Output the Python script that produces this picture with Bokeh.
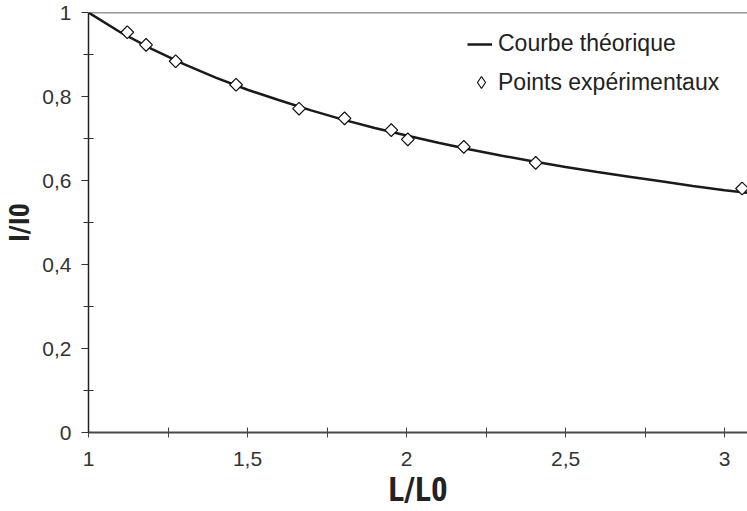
import numpy as np
from bokeh.plotting import figure
from bokeh.models import (FixedTicker, CustomJSTickFormatter, Span, Legend,
                          LegendItem, Range1d)
from bokeh.embed import file_html
from bokeh.resources import INLINE

# Theoretical curve
curve_x = [1.0, 1.1, 1.2, 1.3, 1.4, 1.5, 1.6, 1.7, 1.8, 1.9, 2.0, 2.1, 2.2,
           2.3, 2.4, 2.5, 2.6, 2.7, 2.8, 2.9, 3.0, 3.1]
curve_y = [1.000, 0.953, 0.913, 0.877, 0.845, 0.816, 0.791, 0.767, 0.745,
           0.725, 0.707, 0.690, 0.674, 0.659, 0.645, 0.632, 0.620, 0.609,
           0.598, 0.587, 0.577, 0.568]

# Experimental points
pts_x = [1.122, 1.181, 1.274, 1.464, 1.662, 1.805, 1.952, 2.004, 2.180,
         2.406, 3.055]
pts_y = [0.953, 0.923, 0.884, 0.828, 0.771, 0.748, 0.720, 0.698, 0.680,
         0.642, 0.581]

x_major = [1, 1.5, 2, 2.5, 3]
x_minor = [1.25, 1.75, 2.25, 2.75]
y_major = [0, 0.2, 0.4, 0.6, 0.8, 1]
y_minor = [0.1, 0.3, 0.5, 0.7, 0.9]

FONT = "Liberation Sans"
NARROW = "'Liberation Sans Narrow', 'Arial Narrow', 'Roboto Condensed', 'Liberation Sans'"

p = figure(width=747, height=511, output_backend="svg", toolbar_location=None,
           x_range=Range1d(1, 3.072), y_range=Range1d(0, 1),
           min_border_left=88, min_border_right=0, min_border_top=12,
           min_border_bottom=78)
p.outline_line_color = None
p.grid.visible = False
p.background_fill_color = "white"

fmt = CustomJSTickFormatter(code="return tick.toString().replace('.', ',');")

xa = p.xaxis[0]
xa.ticker = FixedTicker(ticks=x_major, minor_ticks=x_minor)
xa.formatter = fmt
xa.axis_line_color = "#4a4a4a"
xa.axis_line_width = 2
xa.major_tick_in = 5
xa.major_tick_out = 5
xa.minor_tick_in = 5
xa.minor_tick_out = 5
xa.major_tick_line_color = "#444444"
xa.minor_tick_line_color = "#444444"
xa.major_label_standoff = 14
xa.major_label_text_font = FONT
xa.major_label_text_font_size = "21px"
xa.major_label_text_color = "#333333"
xa.axis_label = "L/L0"
xa.axis_label_text_font = NARROW
xa.axis_label_text_font_style = "bold"
xa.axis_label_text_font_size = "33px"
xa.axis_label_text_color = "#222222"
xa.axis_label_standoff = 1

ya = p.yaxis[0]
ya.ticker = FixedTicker(ticks=y_major, minor_ticks=y_minor)
ya.formatter = fmt
ya.axis_line_color = "#222222"
ya.axis_line_width = 1.5
ya.major_tick_in = 0
ya.major_tick_out = 7
ya.minor_tick_in = 5
ya.minor_tick_out = 5
ya.major_tick_line_color = "#333333"
ya.minor_tick_line_color = "#333333"
ya.major_label_standoff = 10
ya.major_label_text_font = FONT
ya.major_label_text_font_size = "21px"
ya.major_label_text_color = "#333333"
ya.axis_label = "I/I0"
ya.axis_label_text_font = NARROW
ya.axis_label_text_font_style = "bold"
ya.axis_label_text_font_size = "28px"
ya.axis_label_text_color = "#222222"
ya.axis_label_standoff = 3

p.add_layout(Span(location=1, dimension="width", line_color="#333333",
                  line_width=1.5))

line_r = p.line(curve_x, curve_y, line_color="#1a1a1a", line_width=2.5)
pts_r = p.scatter(pts_x, pts_y, marker="square", angle=np.pi / 4, size=9,
                  fill_color="white", line_color="#111111", line_width=1.2)
# hidden twin of the points, used only for the legend's diamond symbol
leg_pts = p.scatter(pts_x, pts_y, marker="diamond", fill_color="white",
                    line_color="#111111", line_width=1.2, visible=False)

common = dict(border_line_color=None, background_fill_alpha=0, padding=0,
              margin=0, label_text_font=FONT, label_text_font_size="23px",
              label_text_color="#222222", inactive_fill_alpha=0)

legend1 = Legend(items=[LegendItem(label="Courbe théorique", renderers=[line_r])],
                 location=(379, 375), glyph_width=25, glyph_height=26,
                 label_height=26, label_standoff=6, **common)
legend2 = Legend(items=[LegendItem(label="Points expérimentaux", renderers=[leg_pts])],
                 location=(378, 334), glyph_width=30, glyph_height=32,
                 label_height=30, label_standoff=2, **common)
p.add_layout(legend1)
p.add_layout(legend2)

open("out.html", "w").write(file_html(p, INLINE))
